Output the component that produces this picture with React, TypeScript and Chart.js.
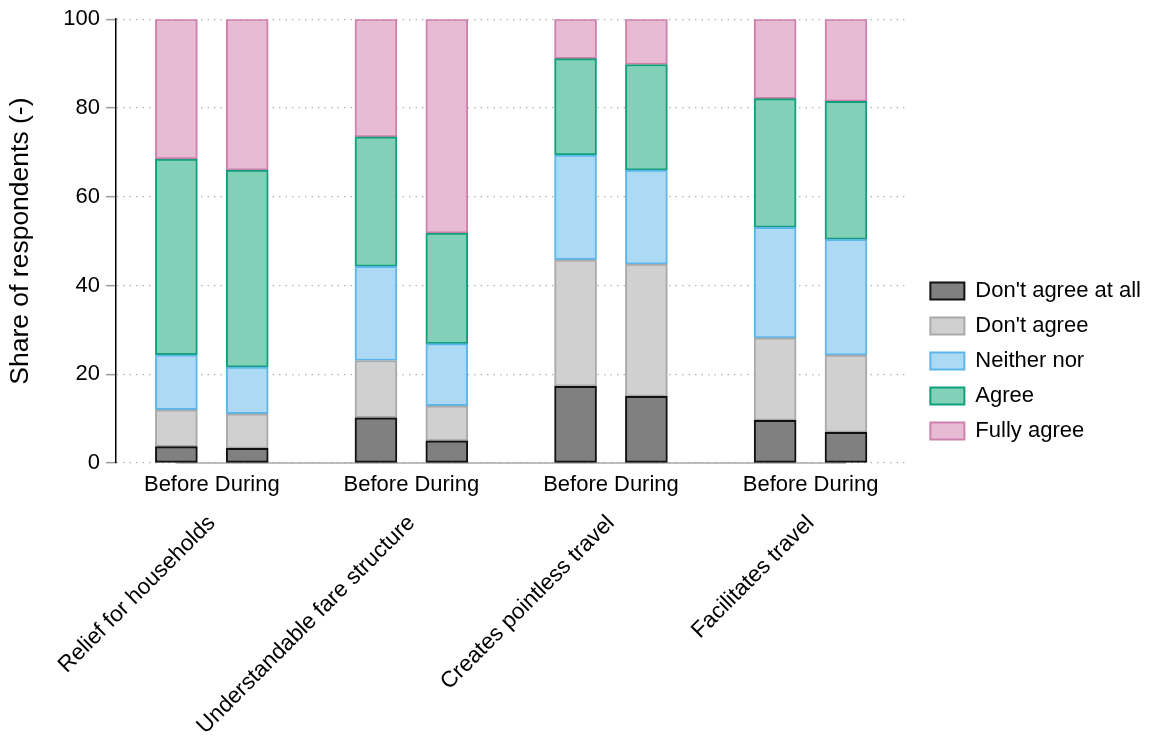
import React, { useEffect, useRef } from 'react';
import { Chart, registerables } from 'chart.js';

Chart.register(...registerables);

const groups = ['Relief for households', 'Understandable fare structure', 'Creates pointless travel', 'Facilitates travel'];
const periods = ['Before', 'During'];
const seriesNames = ["Don't agree at all", "Don't agree", 'Neither nor', 'Agree', 'Fully agree'];
// bar order: Relief B, Relief D, Understandable B, D, Creates B, D, Facilitates B, D
const dontAgreeAtAll = [3.7, 3.3, 10.2, 5.0, 17.3, 15.0, 9.6, 6.9];
const dontAgree = [8.3, 7.8, 12.9, 7.9, 28.5, 29.8, 18.6, 17.4];
const neitherNor = [12.4, 10.5, 21.2, 14.0, 23.6, 21.2, 24.9, 26.1];
const agree = [44.1, 44.4, 29.2, 24.9, 21.7, 23.8, 29.0, 31.1];
const fullyAgree = [31.5, 34.0, 26.5, 48.2, 8.9, 10.2, 17.9, 18.5];
const yTicks = [0, 20, 40, 60, 80, 100];

const seriesValues = [dontAgreeAtAll, dontAgree, neitherNor, agree, fullyAgree];
const fills = ['#808080', '#d0d0d0', '#acdaf4', '#83d0b9', '#e6bbd3'];
const borders = ['#111111', '#a9a9a9', '#5db6ea', '#10a07a', '#cf80ad'];

const FONT = '"Liberation Sans", Arial, Helvetica, sans-serif';
const PAIR_GAP = 0.355;
const X_MIN = -0.48;
const X_MAX = 3.47;

const barX = (i: number) => Math.floor(i / 2) + ((i % 2) - 0.5) * PAIR_GAP;
const barCount = dontAgreeAtAll.length;

const baselinePlugin = {
  id: 'baseline',
  beforeDatasetsDraw(chart: any) {
    const xs = chart.scales.x;
    const ys = chart.scales.y;
    const ctx = chart.ctx;
    const x1 = xs.getPixelForValue(barX(0));
    const x2 = xs.getPixelForValue(barX(barCount - 1));
    const py = ys.getPixelForValue(0);
    ctx.save();
    ctx.strokeStyle = '#a8a8a8';
    ctx.lineWidth = 1.5;
    ctx.beginPath();
    ctx.moveTo(x1, py);
    ctx.lineTo(x2, py);
    ctx.stroke();
    ctx.restore();
  },
};

export default function App() {
  const ref = useRef<HTMLCanvasElement>(null);

  useEffect(() => {
    document.body.style.margin = '0';
    if (!ref.current) return;
    const chart = new Chart(ref.current, {
      type: 'bar',
      data: {
        datasets: seriesNames.map((name, s) => ({
          label: name,
          data: seriesValues[s].map((v, i) => ({ x: barX(i), y: v })),
          backgroundColor: fills[s],
          borderColor: borders[s],
          borderWidth: 2,
          borderSkipped: false,
          barThickness: 42,
        })),
      },
      options: {
        responsive: false,
        animation: false,
        layout: { padding: { top: 17, left: 0, right: 8, bottom: 0 } },
        plugins: {
          tooltip: { enabled: false },
          legend: {
            position: 'right',
            align: 'start',
            maxWidth: 400,
            title: {
              display: true,
              text: '',
              font: { size: 10, family: FONT },
              padding: { top: 238, bottom: 0 },
            },
            labels: {
              boxWidth: 34,
              boxHeight: 17,
              padding: 13,
              color: '#000',
              font: { size: 22, family: FONT },
            },
          },
        },
        scales: {
          x: {
            type: 'linear',
            stacked: true,
            min: X_MIN,
            max: X_MAX,
            offset: false,
            grid: { display: false, drawTicks: false, offset: false },
            border: { display: false },
            afterBuildTicks: (s: any) => {
              s.ticks = dontAgreeAtAll.map((_, i) => ({ value: barX(i) }));
            },
            ticks: {
              autoSkip: false,
              minRotation: 0,
              maxRotation: 0,
              padding: 9,
              color: '#000',
              font: { size: 22, family: FONT },
              callback: (_v: any, i: number) => periods[i % 2],
            },
            afterFit: (s: any) => {
              s.height = 42;
            },
          },
          x2: {
            type: 'linear',
            position: 'bottom',
            weight: 1,
            min: X_MIN,
            max: X_MAX,
            offset: false,
            grid: { display: false, drawTicks: false, offset: false },
            border: { display: false },
            afterBuildTicks: (s: any) => {
              s.ticks = groups.map((_, i) => ({ value: i }));
            },
            ticks: {
              autoSkip: false,
              minRotation: 45,
              maxRotation: 45,
              padding: 5,
              color: '#000',
              font: { size: 22.5, family: FONT },
              callback: (_v: any, i: number) => groups[i],
            },
            afterFit: (s: any) => {
              s.height = 738 - 463 - 42;
            },
          },
          y: {
            stacked: true,
            min: 0,
            max: 100,
            afterBuildTicks: (s: any) => {
              s.ticks = yTicks.map((v) => ({ value: v }));
            },
            ticks: {
              padding: 6,
              color: '#000',
              font: { size: 22, family: FONT },
            },
            grid: {
              color: '#b3b3b3',
              lineWidth: 1.3,
              tickColor: '#999999',
              tickLength: 10,
              tickWidth: 1.5,
              tickBorderDash: [],
            },
            border: { display: true, color: '#000', width: 1.5, dash: [1.5, 5] },
            title: {
              display: true,
              text: 'Share of respondents (-)',
              color: '#000',
              font: { size: 26.5, family: FONT },
              padding: { top: 5, bottom: 0 },
            },
            afterFit: (s: any) => {
              s.width = 116;
            },
          },
          yR: {
            type: 'linear',
            position: 'right',
            display: true,
            grid: { display: false, drawTicks: false },
            border: { display: false },
            ticks: { display: false },
            afterFit: (s: any) => {
              s.width = 13;
            },
          },
        },
      } as any,
      plugins: [baselinePlugin],
    });
    return () => chart.destroy();
  }, []);

  return (
    <div style={{ width: 1159, height: 738 }}>
      <canvas ref={ref} width={1159} height={738} />
    </div>
  );
}
